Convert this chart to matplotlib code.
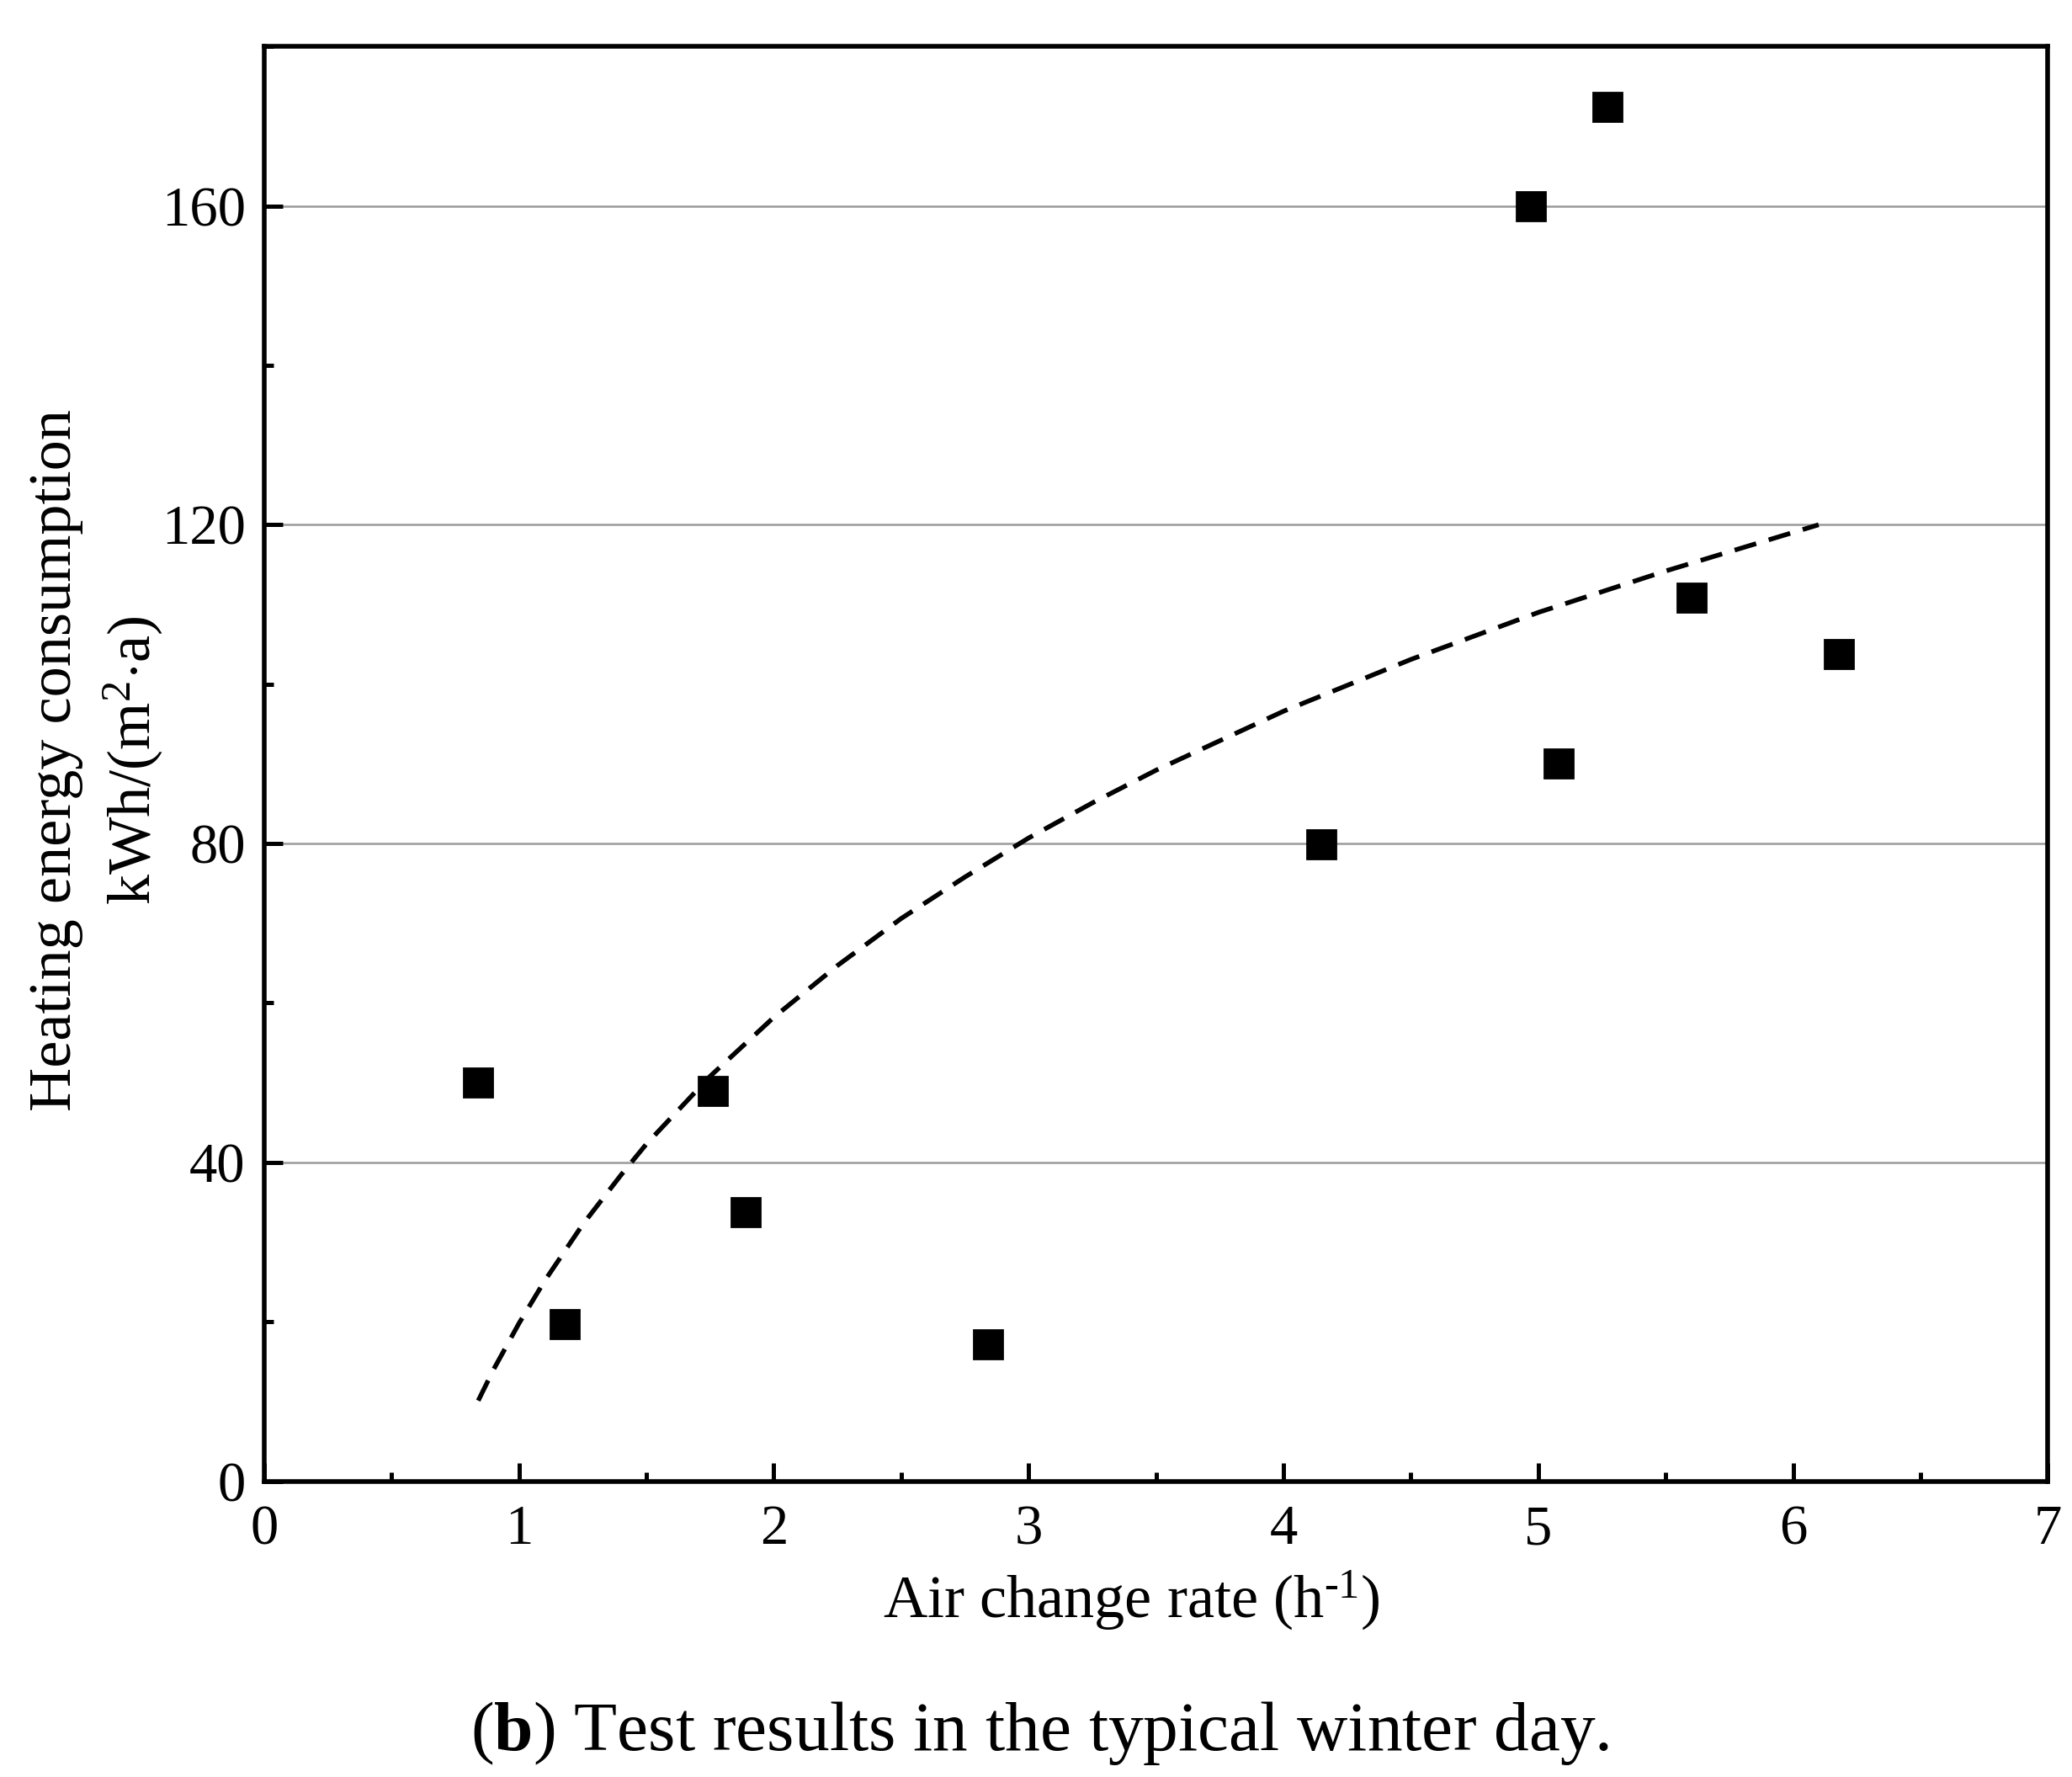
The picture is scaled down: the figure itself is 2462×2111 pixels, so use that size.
import matplotlib
matplotlib.use("Agg")
import matplotlib.pyplot as plt
from matplotlib.ticker import MultipleLocator

plt.rcParams['font.family'] = ['Liberation Serif', 'DejaVu Serif']
plt.rcParams['mathtext.fontset'] = 'custom'
plt.rcParams['mathtext.rm'] = 'Liberation Serif'
plt.rcParams['mathtext.it'] = 'Liberation Serif:italic'
plt.rcParams['mathtext.bf'] = 'Liberation Serif:bold'

air_change = [0.84, 1.18, 1.76, 1.89, 2.84, 4.15, 4.97, 5.27, 5.08, 5.60, 6.18]
heating = [50.0, 19.7, 49.0, 33.8, 17.2, 79.9, 160.0, 172.4, 90.0, 110.9, 103.8]

# Trend curve
fit_x = [0.84, 0.9, 1.0, 1.1, 1.25, 1.4, 1.5, 1.75, 2.0, 2.25, 2.5, 2.75, 3.0,
         3.25, 3.5, 4.0, 4.5, 5.0, 5.5, 6.1]
fit_y = [10.1, 14.0, 19.8, 25.1, 32.2, 38.4, 42.3, 50.8, 58.2, 64.7, 70.6, 75.8, 80.7,
         85.1, 89.2, 96.6, 103.1, 109.0, 114.2, 120.0]

x_ticks = [0, 1, 2, 3, 4, 5, 6, 7]
y_ticks = [0, 40, 80, 120, 160]

fig = plt.figure(figsize=(12.31, 10.555), dpi=200)
ax = fig.add_axes([0.1275, 0.1665, 0.8609, 0.8073])

for yv in y_ticks[1:]:
    ax.axhline(yv, color='#9a9a9a', lw=0.9, zorder=1)

ax.plot(fit_x, fit_y, color='black', lw=2.0, dashes=(4.8, 2.8), zorder=2)
ax.plot(air_change, heating, linestyle='none', marker='s', ms=12.5,
        color='black', zorder=3)

ax.set_xlim(0, 7)
ax.set_ylim(0, 180)
ax.set_xticks(x_ticks)
ax.set_yticks(y_ticks)
ax.xaxis.set_minor_locator(MultipleLocator(0.5))
ax.yaxis.set_minor_locator(MultipleLocator(20))
ax.tick_params(which='both', direction='in', top=False, right=False, width=1.8)
ax.tick_params(which='major', length=8, labelsize=24)
ax.tick_params(axis='x', which='major', pad=10)
ax.tick_params(axis='y', which='major', pad=8)
ax.tick_params(which='minor', length=4)
for s in ax.spines.values():
    s.set_linewidth(2.0)

fig.text(0.027, 0.572, 'Heating energy consumption', rotation=90,
         ha='center', va='center', fontsize=26)
fig.text(0.0644, 0.572, r'kWh/(m$^{\mathregular{2}}$$\cdot$a)', rotation=90,
         ha='center', va='center', fontsize=26)
fig.text(0.546, 0.0998, r'Air change rate (h$^{\text{-1}}$)',
         ha='center', va='center', fontsize=26)
fig.text(0.502, 0.0248, r'($\mathbf{b}$) Test results in the typical winter day.',
         ha='center', va='center', fontsize=30)

fig.savefig('out.png', dpi=200, facecolor='white')
